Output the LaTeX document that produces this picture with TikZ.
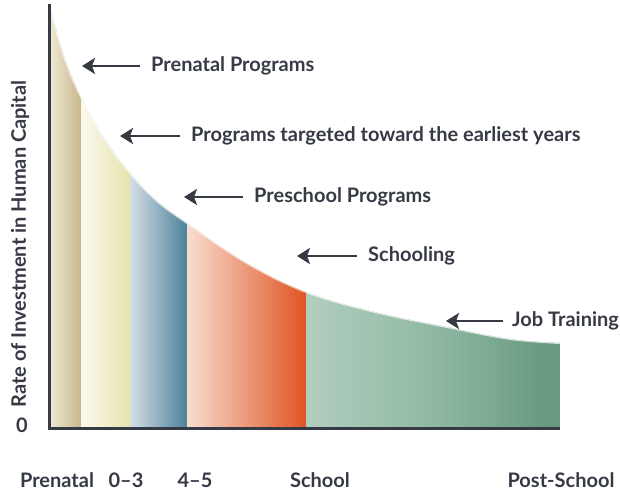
\documentclass[tikz,border=0pt]{standalone}
\usepackage{fontspec}
\setmainfont{Lato}
\usetikzlibrary{arrows.meta}
\definecolor{ink}{HTML}{363A45}
\definecolor{pa}{HTML}{EFE9D6}\definecolor{pb}{HTML}{C8B68C}
\definecolor{ya}{HTML}{FAF9EE}\definecolor{yb}{HTML}{E6E4AC}
\definecolor{ba}{HTML}{D6DEE7}\definecolor{bb}{HTML}{4A8299}
\definecolor{oa}{HTML}{F8DDD0}\definecolor{ob}{HTML}{E05423}
\definecolor{ga}{HTML}{D2E3DA}\definecolor{gm}{HTML}{90B9A3}\definecolor{gb}{HTML}{689A80}
\pgfdeclarehorizontalshading{postshade}{100bp}{color(0bp)=(ga); color(50bp)=(gm); color(72bp)=(gb); color(100bp)=(gb)}
\tikzset{
  lbl/.style={font=\fontsize{20}{23}\selectfont\bfseries, text=ink, inner sep=0pt},
  arr/.style={draw=ink, line width=2.6pt, -{Stealth[length=13pt,width=16pt,inset=3pt]}},
  axis/.style={draw=ink, line width=3pt},
  glow/.style={draw=white, line width=2pt, opacity=0.7}
}
\begin{document}
\begin{tikzpicture}[x=1pt,y=-1pt]
\useasboundingbox (0,0) rectangle (620,492);
\def\curvepts{(49,3) (64,56) (81,97) (104,138) (130,173) (157,201) (187,223) (245,262) (306,292) (375,312) (447,327) (510,339) (560,343)}
\begin{scope}
\clip (49,428) -- plot[smooth,tension=0.6] coordinates {\curvepts} -- (560,428) -- cycle;
\fill[left color=pa, right color=pb] (49,0) rectangle (81,430);
\fill[left color=ya, right color=yb] (81,0) rectangle (130,430);
\fill[left color=ba, right color=bb] (130,0) rectangle (187,430);
\fill[left color=oa, right color=ob] (187,0) rectangle (306,430);
\fill[shading=postshade] (306,0) rectangle (560,430);
\end{scope}
\path[glow] plot[smooth,tension=0.6] coordinates {\curvepts};
\coordinate (o) at (49,428);
\coordinate (top) at (49,4);
\coordinate (xe) at (560,428);
\draw[axis] (top) -- (o.center) -- (xe);

\node[lbl, anchor=west] (n1) at (151,66) {Prenatal Programs};
\node[lbl, anchor=west] (n2) at (191,136) {Programs targeted toward the earliest years};
\node[lbl, anchor=west] (n3) at (254,197) {Preschool Programs};
\node[lbl, anchor=west] (n4) at (368,256) {Schooling};
\node[lbl, anchor=west] (n5) at (512,321) {Job Training};
\coordinate (t1) at (82,66);
\coordinate (t2) at (120,136);
\coordinate (t3) at (184,197);
\coordinate (t4) at (297,256);
\coordinate (t5) at (446,321);
\draw[arr] ([xshift=-11pt]n1.west) -- (t1);
\draw[arr] ([xshift=-11pt]n2.west) -- (t2);
\draw[arr] ([xshift=-11pt]n3.west) -- (t3);
\draw[arr] ([xshift=-11pt]n4.west) -- (t4);
\draw[arr] ([xshift=-9pt]n5.west) -- (t5);

\node[lbl, rotate=90] (yl) at (20,244) {Rate of Investment in Human Capital};
\node[lbl] (zero) at (22,425) {0};
\node[lbl] (x1) at (57,480) {Prenatal};
\node[lbl] (x2) at (126,480) {0–3};
\node[lbl] (x3) at (195,480) {4–5};
\node[lbl] (x4) at (320,480) {School};
\node[lbl] (x5) at (561,480) {Post-School};
\end{tikzpicture}
\end{document}
